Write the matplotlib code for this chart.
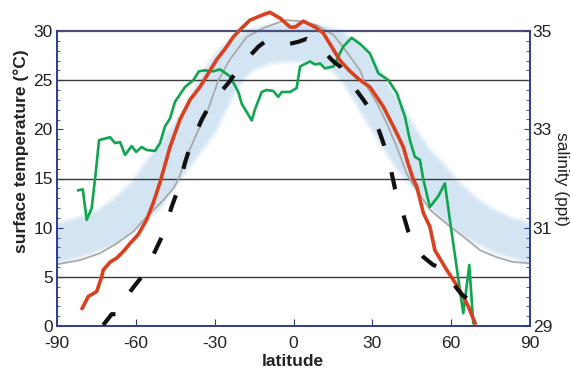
import matplotlib
matplotlib.use("Agg")
import matplotlib.pyplot as plt
from matplotlib.patches import Rectangle
from matplotlib.ticker import MultipleLocator, FixedLocator
import numpy as np

plt.rcParams['font.family'] = ['Liberation Sans', 'DejaVu Sans']
plt.rcParams['axes.unicode_minus'] = False

# ---- data (latitude, surface temperature in deg C) ----
red_lat = [-80.4, -78.1, -74.9, -73.0, -72.4, -69.8, -67.3, -64.7, -62.2, -59.1, -55.9, -53.4,
           -50.8, -47.0, -43.2, -39.4, -35.6, -32.4, -29.2, -26.0, -22.9, -19.7, -16.6, -12.1,
           -9.0, -5.1, -1.3, 0.6, 3.7, 8.2, 11.3, 15.2, 17.7, 21.5, 25.3, 29.1, 34.2, 38.0,
           41.8, 43.5, 45.6, 46.9, 49.4, 51.9, 53.8, 58.3, 60.8, 64.0, 66.5, 69.1]
red_t = [1.8, 3.0, 3.5, 5.0, 5.7, 6.5, 6.9, 7.6, 8.4, 9.3, 10.8, 12.5,
         14.6, 18.2, 21.0, 23.0, 24.3, 25.7, 27.1, 28.2, 29.4, 30.3, 31.1, 31.6,
         31.9, 31.3, 30.4, 30.4, 31.0, 30.4, 29.8, 28.1, 27.0, 25.9, 25.0, 24.3, 22.3, 20.3,
         18.2, 16.6, 14.9, 14.2, 11.5, 10.1, 7.7, 5.7, 4.7, 3.3, 2.0, 0.3]

green_lat = [-81.9, -80.2, -78.7, -77.4, -76.8, -75.3, -74.0, -69.8, -67.9, -66.0, -64.1, -61.6,
             -59.9, -57.8, -55.9, -52.7, -50.8, -48.9, -47.0, -45.1, -41.3, -38.1, -36.0, -33.7,
             -30.5, -28.0, -24.2, -21.0, -19.7, -15.9, -14.7, -12.1, -10.2, -7.7, -5.8, -4.5,
             -1.3, 1.2, 2.5, 6.3, 8.2, 10.1, 12.0, 15.2, 18.9, 22.1, 25.3, 29.1, 32.3, 36.1,
             39.3, 42.4, 44.3, 46.2, 48.1, 49.4, 51.9, 55.1, 57.6, 59.5, 64.6, 66.9, 68.4]
green_t = [13.8, 13.9, 10.8, 11.6, 12.0, 15.5, 18.9, 19.2, 18.6, 18.7, 17.4, 18.3,
           17.7, 18.2, 17.9, 17.8, 18.6, 20.3, 21.1, 22.8, 24.3, 25.0, 25.9, 26.0,
           25.9, 26.1, 25.4, 23.8, 22.6, 20.9, 22.0, 23.8, 24.0, 23.9, 23.3, 23.8,
           23.8, 24.2, 26.4, 26.9, 26.6, 26.7, 26.2, 26.4, 28.4, 29.3, 28.7, 27.7, 25.7, 25.0,
           23.7, 21.3, 18.9, 17.2, 16.9, 14.9, 12.1, 13.2, 14.5, 10.8, 1.3, 6.2, 0.3]

black_lat = [-72.4, -69.2, -67.3, -61.6, -57.2, -52.7, -49.5, -46.4, -43.8, -41.3, -39.4, -34.9,
             -31.8, -24.2, -21.0, -13.4, -10.9, -8.3, -3.0, 1.8, 5.0, 8.2, 15.2, 17.7, 20.3,
             26.6, 30.4, 34.2, 36.1, 38.6, 40.5, 43.7, 46.2, 49.5, 53.2, 55.7, 57.6, 64.0,
             66.1, 67.8]
black_t = [0.1, 1.2, 1.2, 3.7, 5.2, 7.6, 9.4, 12.1, 14.0, 16.6, 18.2, 21.0,
           22.5, 24.9, 26.2, 28.4, 28.9, 29.1, 28.6, 28.9, 29.2, 28.8, 26.9, 26.4, 25.3,
           23.0, 21.5, 18.6, 17.1, 14.0, 12.5, 9.6, 8.1, 7.0, 6.2, 6.0, 5.4, 3.2,
           2.8, 2.0]

gray_lat = [-89.5, -81.2, -73.6, -67.3, -61.0, -55.9, -49.5, -45.7, -43.8, -40.7, -35.6, -32.4,
            -28.6, -24.2, -17.8, -11.5, -6.4, -2.6, 2.5, 8.8, 15.2, 18.5, 21.5, 25.3, 27.2,
            31.7, 35.5, 39.3, 43.1, 45.0, 52.0, 58.3, 64.6, 71.0, 77.3, 83.6, 89.5]
gray_t = [6.3, 6.7, 7.4, 8.4, 9.6, 11.1, 12.8, 14.0, 14.9, 17.2, 20.3, 22.1,
          25.0, 27.1, 29.4, 30.3, 30.8, 31.1, 31.0, 30.6, 29.6, 28.5, 27.4, 26.0, 24.7,
          22.7, 20.6, 18.2, 15.5, 14.6, 11.8, 10.4, 9.1, 7.7, 7.0, 6.5, 6.4]

band_lat = [-95, -90, -80, -70, -62, -56, -51.5, -46, -41, -36, -32, -28, -24, -20, -15, -10,
            -5, 0, 5, 10, 15, 20, 25, 30, 35, 40, 46, 52, 58, 65, 72, 80, 90, 95]
band_t = [8.3, 8.4, 9.1, 10.2, 11.8, 13.3, 15.1, 17.1, 18.9, 20.7, 22.9, 25.0, 26.5, 27.5, 28.2, 28.6,
          28.75, 28.8, 28.75, 28.6, 28.2, 27.3, 25.8, 23.6, 21.4, 19.2, 16.8, 15.1, 13.2, 11.5, 10.2, 9.2, 8.4, 8.3]

x_ticks = [-90, -60, -30, 0, 30, 60, 90]
temp_ticks = [0, 5, 10, 15, 20, 25, 30]
sal_ticks = [29, 31, 33, 35]
grid_levels = [5, 15, 25]

navy = '#2e3a8c'

fig = plt.figure(figsize=(5.71, 3.69), dpi=100)
ax = fig.add_axes([57/571, 1-326/369, 473/571, 295/369])
ax.set_xlim(-90, 90)
ax.set_ylim(0, 30)

# blurred band
clip = Rectangle((-90, -5), 180, 45, transform=ax.transData)
for lw, a in [(31, 0.3), (28, 0.55), (25, 1.0)]:
    ln, = ax.plot(band_lat, band_t, color='#d3e5f3', lw=lw, alpha=a,
                  solid_capstyle='butt', solid_joinstyle='round', zorder=1)
    ln.set_clip_path(clip)

for g in grid_levels:
    ax.axhline(g, color='#3a3a3a', lw=1.0, zorder=2)

ax.plot(gray_lat, gray_t, color='#a9a9a9', lw=1.3, zorder=3, clip_on=False)
ax.plot(green_lat, green_t, color='#10a54e', lw=1.9, zorder=4, clip_on=False)
ax.plot(red_lat, red_t, color='#d9401f', lw=2.6, zorder=5, clip_on=False)
ax.plot(black_lat, black_t, color='#111111', lw=3.0, dashes=(4.2, 6.6), zorder=6,
        clip_on=False, dash_capstyle='butt')

ax.axhline(30, color='#4d4d7a', lw=1.6, zorder=4.5, clip_on=False)

for s in ['left', 'bottom', 'right']:
    ax.spines[s].set_color(navy)
    ax.spines[s].set_linewidth(1.2)
ax.spines['top'].set_visible(False)

ax.xaxis.set_major_locator(FixedLocator(x_ticks))
ax.set_xticklabels([str(v) for v in x_ticks])
ax.yaxis.set_major_locator(FixedLocator(temp_ticks))
ax.set_yticklabels([str(v) for v in temp_ticks])
ax.yaxis.set_minor_locator(MultipleLocator(1))
ax.tick_params(axis='both', which='both', direction='in', color=navy, labelsize=12.5,
               labelcolor='#222222')
ax.tick_params(axis='x', which='major', length=5, pad=7)
ax.tick_params(axis='y', which='major', length=4, pad=3)
ax.tick_params(axis='y', which='minor', length=2.5)

ax2 = ax.twinx()
ax2.set_ylim(29, 35)
ax2.yaxis.set_major_locator(FixedLocator(sal_ticks))
ax2.set_yticklabels([str(v) for v in sal_ticks])
ax2.yaxis.set_minor_locator(MultipleLocator(0.2))
ax2.tick_params(axis='y', which='both', direction='in', color=navy, labelsize=12.5,
                labelcolor='#222222', pad=2)
ax2.tick_params(axis='y', which='major', length=4.5)
ax2.tick_params(axis='y', which='minor', length=2.8)
for s in ['left', 'bottom', 'right']:
    ax2.spines[s].set_color(navy)
    ax2.spines[s].set_linewidth(1.2)
ax2.spines['top'].set_visible(False)

fig.text(21/571, 1-151/369, 'surface temperature (°C)', rotation=90, ha='center', va='center',
         fontsize=12.5, fontweight='bold', color='#222222')
fig.text(562/571, 1-178.5/369, 'salinity (ppt)', rotation=-90, ha='center', va='center',
         fontsize=12.5, color='#222222')
fig.text(293/571, 1-366/369, 'latitude', ha='center', va='baseline',
         fontsize=12.5, fontweight='bold', color='#222222')

fig.savefig('out.png', dpi=100)
